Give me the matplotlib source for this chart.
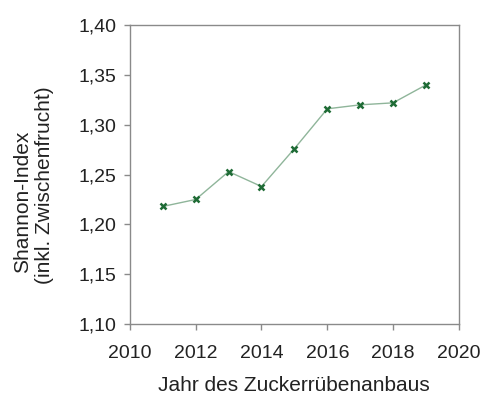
import matplotlib.pyplot as plt
from matplotlib.ticker import FuncFormatter

# Shannon-Index je Anbaujahr der Zuckerrübe
years = [2011, 2012, 2013, 2014, 2015, 2016, 2017, 2018, 2019]
shannon = [1.218, 1.225, 1.253, 1.238, 1.276, 1.316, 1.320, 1.322, 1.340]

plt.rcParams["font.family"] = ["Liberation Sans", "DejaVu Sans"]

W, H = 483, 399
fig = plt.figure(figsize=(W / 100, H / 100), dpi=100)
ax = fig.add_axes([0.269, 0.188, 0.681, 0.749])

ax.plot(years, shannon, color="#8fb59a", linewidth=1.0, zorder=2)
ax.plot(years, shannon, linestyle="none", marker="x", markersize=5,
        markeredgewidth=1.8, color="#1e6b35", zorder=3)

ax.set_xlim(2010, 2020)
ax.set_ylim(1.10, 1.40)
ax.set_xticks(range(2010, 2021, 2))
ax.set_yticks([1.10, 1.15, 1.20, 1.25, 1.30, 1.35, 1.40])
ax.yaxis.set_major_formatter(FuncFormatter(lambda v, p: f"{v:.2f}".replace(".", ",")))

for s in ax.spines.values():
    s.set_color("#8a8a8a")
    s.set_linewidth(1.0)
ax.tick_params(colors="#8a8a8a", labelcolor="#222222", labelsize=14,
               length=4, width=1.0, direction="out")
ax.tick_params(axis="x", pad=11)
ax.tick_params(axis="y", pad=6)

# Achsenbeschriftungen als freie Texte
fig.text(294 / W, 1 - 391 / H, "Jahr des Zuckerrübenanbaus", fontsize=15,
         color="#222222", ha="center", va="baseline")
fig.text(23 / W, 1 - 202 / H, "Shannon-Index", rotation=90, fontsize=15,
         color="#222222", ha="center", va="center")
fig.text(45 / W, 1 - 185 / H, "(inkl. Zwischenfrucht)", rotation=90, fontsize=15,
         color="#222222", ha="center", va="center")

fig.savefig("out.png", dpi=100)
